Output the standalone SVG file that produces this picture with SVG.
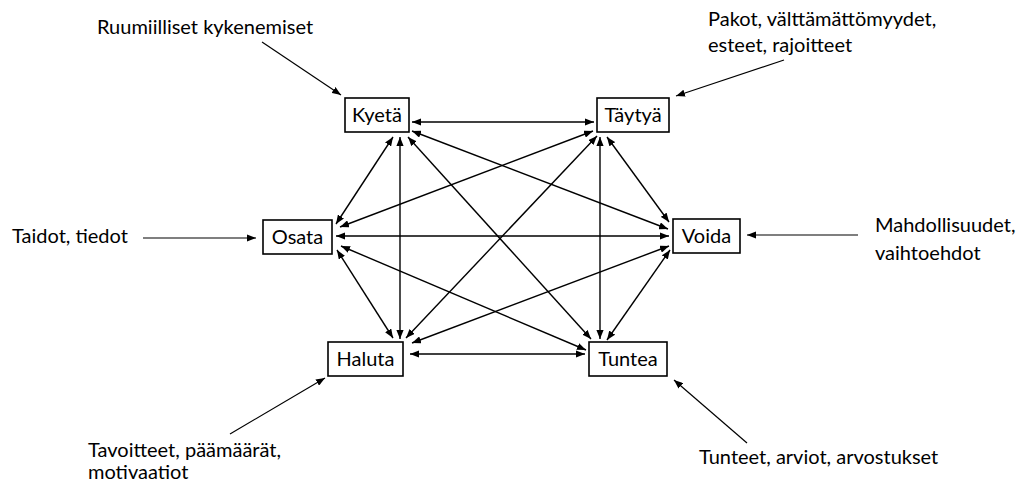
<svg xmlns="http://www.w3.org/2000/svg" width="1021" height="483" viewBox="0 0 1021 483">
  <style>
    text { font-family: "Lato", "Open Sans", "Liberation Sans", sans-serif; font-size: 20px; fill: #000; }
    .box { fill: #fff; stroke: #000; stroke-width: 1.6; }
    .lbl { text-anchor: middle; }
    .link { stroke: #000; stroke-width: 1.4; fill: none; marker-end: url(#head); marker-start: url(#head); }
    .in { stroke: #000; stroke-width: 1.2; fill: none; marker-end: url(#head); }
  </style>
  <defs>
    <marker id="head" viewBox="0 0 10 8" refX="10" refY="4" markerWidth="9" markerHeight="7.2" markerUnits="userSpaceOnUse" orient="auto-start-reverse">
      <path d="M0,0 L10,4 L0,8 z" fill="#000"/>
    </marker>
  </defs>
  <rect width="1021" height="483" fill="#fff"/>

  <g id="connectors">
    <!-- two-way links between the six verbs -->
    <line class="link" x1="412" y1="122" x2="594" y2="122"/>
    <line class="link" x1="393" y1="137" x2="336" y2="224"/>
    <line class="link" x1="400" y1="137" x2="400" y2="339"/>
    <line class="link" x1="408" y1="137" x2="591" y2="339"/>
    <line class="link" x1="412" y1="131" x2="668" y2="229"/>
    <line class="link" x1="593" y1="131" x2="340" y2="227"/>
    <line class="link" x1="597" y1="136" x2="406" y2="338"/>
    <line class="link" x1="600" y1="137" x2="600" y2="339"/>
    <line class="link" x1="607" y1="137" x2="669" y2="222"/>
    <line class="link" x1="336" y1="236" x2="669" y2="236"/>
    <line class="link" x1="337" y1="250" x2="393" y2="338"/>
    <line class="link" x1="341" y1="246" x2="586" y2="350"/>
    <line class="link" x1="412" y1="343" x2="669" y2="246"/>
    <line class="link" x1="410" y1="354" x2="585" y2="354"/>
    <line class="link" x1="670" y1="250" x2="607" y2="340"/>
    <!-- incoming arrows from the outer labels -->
    <line class="in" x1="262" y1="42" x2="341" y2="95"/>
    <line class="in" x1="784" y1="60" x2="676" y2="96"/>
    <line class="in" x1="143" y1="238" x2="256" y2="238"/>
    <line class="in" x1="858" y1="235" x2="747" y2="235"/>
    <line class="in" x1="230" y1="434" x2="325" y2="378"/>
    <line class="in" x1="747" y1="443" x2="674" y2="380"/>
  </g>

  <g id="kyeta">
    <rect class="box" x="345" y="98" width="64" height="34"/>
    <text class="lbl" x="377" y="122">Kyetä</text>
  </g>
  <g id="taytya">
    <rect class="box" x="597" y="98" width="72" height="34"/>
    <text class="lbl" x="633" y="122">Täytyä</text>
  </g>
  <g id="osata">
    <rect class="box" x="263" y="220" width="69" height="34"/>
    <text class="lbl" x="297.5" y="244">Osata</text>
  </g>
  <g id="voida">
    <rect class="box" x="673" y="219" width="67" height="34"/>
    <text class="lbl" x="706.5" y="243">Voida</text>
  </g>
  <g id="haluta">
    <rect class="box" x="328" y="342" width="75" height="34"/>
    <text class="lbl" x="365.5" y="366">Haluta</text>
  </g>
  <g id="tuntea">
    <rect class="box" x="589" y="342" width="78" height="34"/>
    <text class="lbl" x="628" y="366">Tuntea</text>
  </g>

  <g id="outer-labels">
    <text x="97" y="34">Ruumiilliset kykenemiset</text>
    <text x="708" y="26">Pakot, välttämättömyydet,</text>
    <text x="708" y="52">esteet, rajoitteet</text>
    <text x="12" y="243">Taidot, tiedot</text>
    <text x="875" y="232">Mahdollisuudet,</text>
    <text x="875" y="260">vaihtoehdot</text>
    <text x="88" y="457">Tavoitteet, päämäärät,</text>
    <text x="88" y="479">motivaatiot</text>
    <text x="699" y="464">Tunteet, arviot, arvostukset</text>
  </g>
</svg>
